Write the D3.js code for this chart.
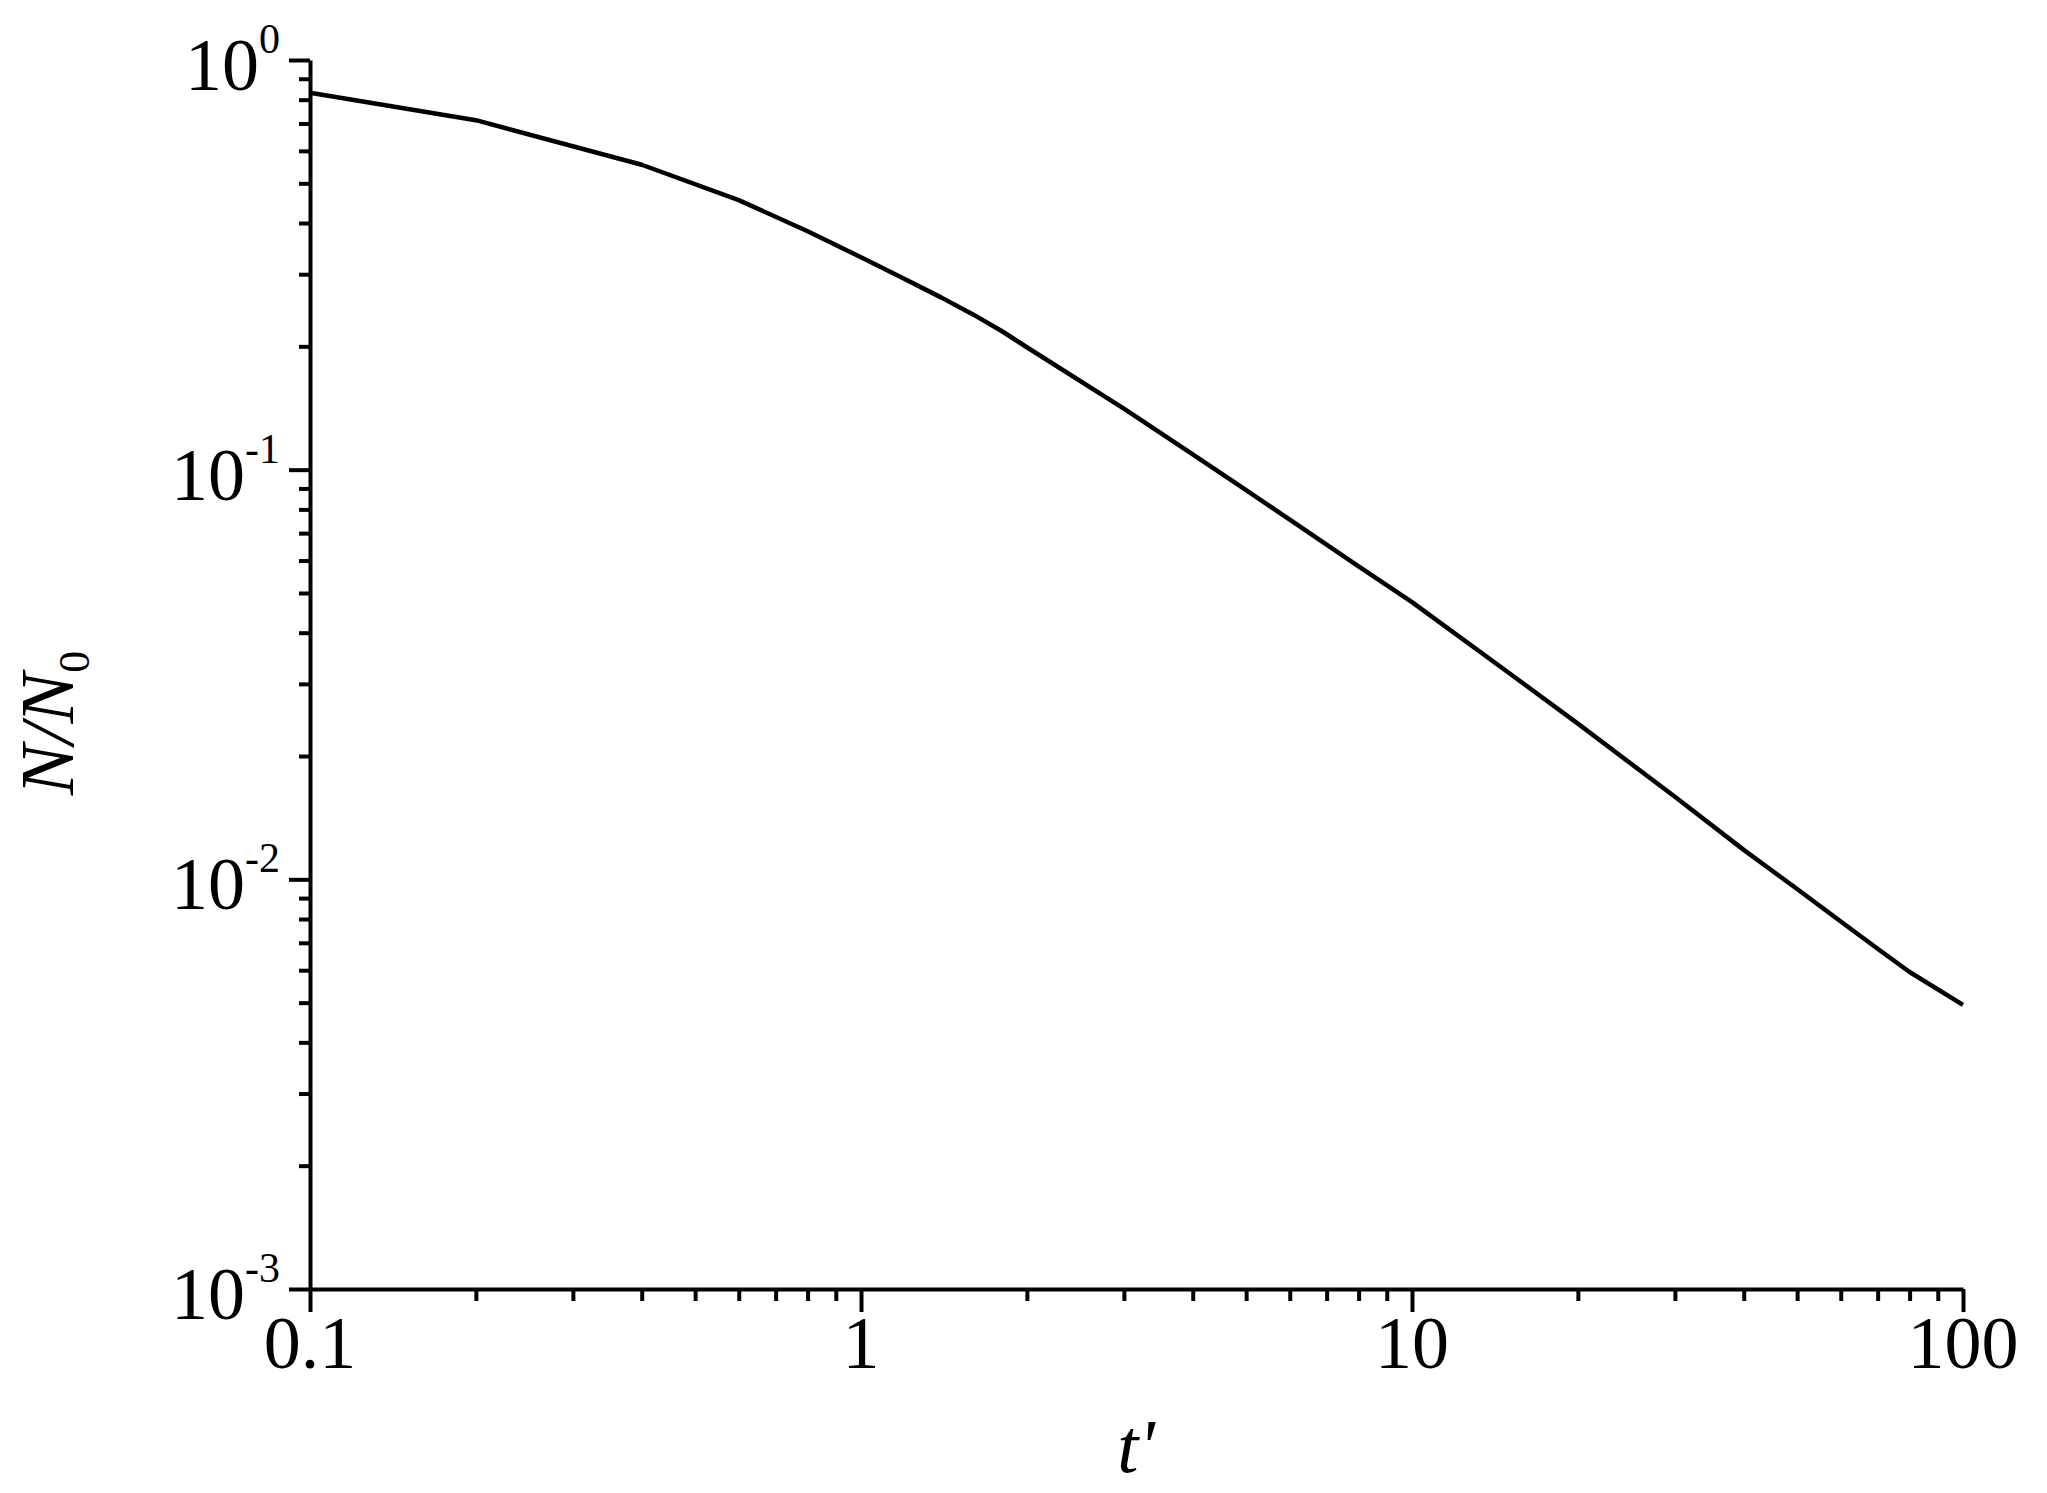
<!DOCTYPE html>
<html>
<head>
    <script src="https://d3js.org/d3.v7.min.js" charset="utf-8"></script>
    <style type="text/css">
        body { margin: 0; background: #fff; }
        text { font-family: "Liberation Serif", "Times New Roman", serif; fill: #000; }
        .domain, .tick line { stroke: #000; stroke-width: 4px; }
        .curve { fill: none; stroke: #000; stroke-width: 4.5px; stroke-linejoin: round; }
    </style>
</head>
<body>

<svg width="2047" height="1493"></svg>

<script>
    // dimensionless time t'
    var tValues = [0.1, 0.2, 0.4, 0.6, 0.8, 1, 1.2, 1.4, 1.6, 1.8, 2, 3, 4, 5, 6, 8,
                   10, 15, 20, 30, 40, 50, 60, 70, 80, 100];
    // N/N0
    var ratio = [0.832, 0.713, 0.555, 0.455, 0.382, 0.330, 0.292, 0.263, 0.239, 0.218, 0.199,
                 0.141, 0.109, 0.0891, 0.0755, 0.0581,
                 0.0475, 0.0319, 0.024, 0.0159, 0.0118, 0.00947, 0.00789, 0.00677, 0.00594, 0.00494];

    var xMajor = [0.1, 1, 10, 100];
    var xMajorLabels = ["0.1", "1", "10", "100"];
    var yMajor = [1, 0.1, 0.01, 0.001];
    var yExponents = ["0", "-1", "-2", "-3"];

    var svg = d3.select("svg");

    var padding = {top: 60, right: 84, bottom: 204, left: 310};
    var width = 2047 - padding.left - padding.right,
        height = 1493 - padding.top - padding.bottom;

    var x = d3.scaleLog().domain([0.1, 100]).range([0, width]);
    var y = d3.scaleLog().domain([0.001, 1]).range([height, 0]);

    var g = svg.append("g")
        .attr("transform", "translate(" + padding.left + "," + padding.top + ")");

    // minor ticks: 2..9 in each decade
    function minors(lo, hi) {
        var out = [];
        for (var d = lo; d < hi; d *= 10) {
            for (var k = 2; k <= 9; k++) out.push(+(d * k).toPrecision(3));
        }
        return out;
    }

    // x axis
    g.append("g")
        .attr("transform", "translate(0," + height + ")")
        .call(d3.axisBottom(x).tickValues(minors(0.1, 100)).tickSize(12).tickSizeOuter(0).tickFormat(""));
    var xm = g.append("g")
        .attr("transform", "translate(0," + height + ")")
        .call(d3.axisBottom(x).tickValues(xMajor).tickSize(23).tickSizeOuter(0).tickFormat(""));
    xm.select(".domain").remove();

    g.selectAll(".xlab")
        .data(xMajor)
        .enter().append("text")
        .attr("class", "xlab")
        .attr("x", function(d) { return x(d); })
        .attr("y", height + 79)
        .attr("text-anchor", "middle")
        .attr("font-size", "74px")
        .text(function(d, i) { return xMajorLabels[i]; });

    // y axis
    g.append("g")
        .call(d3.axisLeft(y).tickValues(minors(0.001, 1)).tickSize(11).tickSizeOuter(0).tickFormat(""));
    var ym = g.append("g")
        .call(d3.axisLeft(y).tickValues(yMajor).tickSize(21).tickSizeOuter(0).tickFormat(""));
    ym.select(".domain").remove();

    var ylab = g.selectAll(".ylab")
        .data(yMajor)
        .enter().append("text")
        .attr("class", "ylab")
        .attr("x", -30)
        .attr("y", function(d) { return y(d) + 30; })
        .attr("text-anchor", "end")
        .attr("font-size", "74px");
    ylab.append("tspan").text("10");
    ylab.append("tspan")
        .attr("font-size", "42px")
        .attr("dy", -37)
        .text(function(d, i) { return yExponents[i]; });

    // curve
    var line = d3.line()
        .x(function(d) { return x(d[0]); })
        .y(function(d) { return y(d[1]); });

    g.append("path")
        .datum(tValues.map(function(t, i) { return [t, ratio[i]]; }))
        .attr("class", "curve")
        .attr("d", line);

    // axis titles
    svg.append("text")
        .attr("x", 1136)
        .attr("y", 1472)
        .attr("text-anchor", "middle")
        .attr("font-size", "76px")
        .attr("font-style", "italic")
        .text("t'");

    var yt = svg.append("text")
        .attr("transform", "translate(73,723) rotate(-90)")
        .attr("text-anchor", "middle")
        .attr("font-size", "76px");
    yt.append("tspan").attr("font-style", "italic").text("N/N");
    yt.append("tspan").attr("font-size", "44px").attr("dy", 16).text("0");
</script>
</body>
</html>
